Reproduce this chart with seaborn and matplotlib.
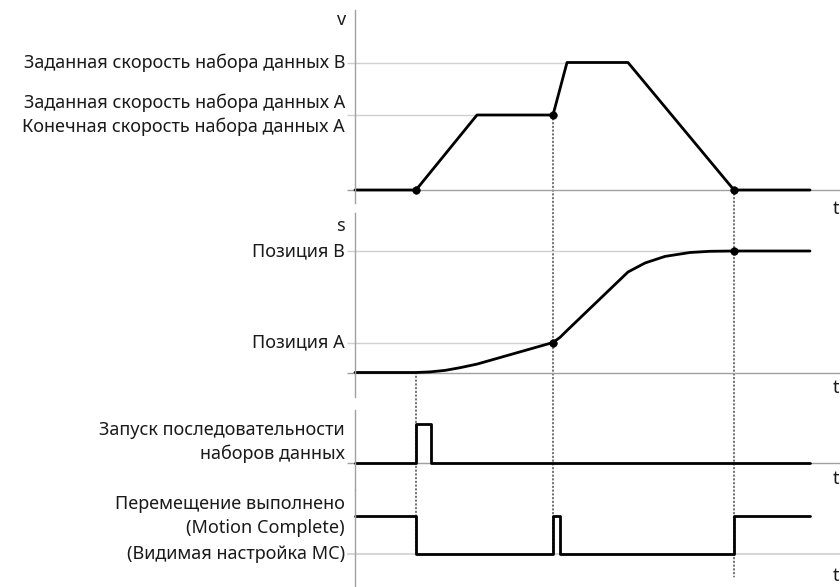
import matplotlib
matplotlib.use("Agg")
import matplotlib.pyplot as plt
from matplotlib.patches import ConnectionPatch
import seaborn as sns

# time axis: arbitrary units, 0 = origin of the time axis
t_start = 6.1     # record sequence started
t_switch = 19.8   # position A reached -> continue with record B
t_done = 37.9     # position B reached
t_end = 45.5      # end of drawn signals

# velocity profile (v)
vel_t = [0, 6.1, 12.2, 19.8, 21.2, 27.3, 37.9, 45.5]
vel_v = [0, 0, 1.0, 1.0, 1.7, 1.7, 0, 0]
v_a, v_b = 1.0, 1.7

# position profile (s)
pos_t = [0, 6.1, 7.5, 9.0, 10.5, 12.2, 19.8, 20.5, 21.2, 27.3, 29.0, 31.0, 33.5, 35.5, 37.9, 45.5]
pos_s = [0, 0, 0.02, 0.07, 0.16, 0.28, 1.0, 1.17, 1.40, 3.35, 3.65, 3.87, 4.0, 4.04, 4.05, 4.05]
s_a, s_b = 1.0, 4.05

# digital signals (steps-post)
start_t = [0, 6.1, 7.6, 45.5]
start_lvl = [0, 1, 0, 0]
mc_t = [0, 6.1, 19.8, 20.5, 37.9, 45.5]
mc_lvl = [1, 0, 1, 0, 1, 1]

lbl_v_b = "Заданная скорость набора данных B"
lbl_v_a = "Заданная скорость набора данных A\nКонечная скорость набора данных A"
lbl_s_b = "Позиция B"
lbl_s_a = "Позиция A"
lbl_start = "Запуск последовательности\nнаборов данных"
lbl_mc_hi = "Перемещение выполнено\n(Motion Complete)"
lbl_mc_lo = "(Видимая настройка MC)"

sns.set_theme(style="white")
plt.rcParams["font.family"] = ["Noto Sans", "DejaVu Sans"]

W, H = 840, 587
LEFT = 347
FS = 13
AXIS_GREY = "#a0a0a0"
GUIDE_GREY = "#d0d0d0"
TEXT = "#1a1a1a"
LW = 2.0

fig = plt.figure(figsize=(W / 100, H / 100), dpi=100)


def add_panel(top, bottom, ylim):
    ax = fig.add_axes([LEFT / W, 1 - bottom / H, (W - LEFT) / W, (bottom - top) / H])
    ax.set_xlim(-0.8, 48.5)
    ax.set_ylim(*ylim)
    ax.patch.set_alpha(0)
    for side in ("top", "right", "bottom"):
        ax.spines[side].set_visible(False)
    ax.spines["left"].set_position(("data", 0))
    ax.spines["left"].set_color(AXIS_GREY)
    ax.spines["left"].set_linewidth(1)
    ax.set_xticks([])
    ax.set_yticks([])
    ax.set_xlabel("")
    ax.set_ylabel("")
    return ax


def label(ax, y, text, va="center"):
    ax.annotate(text, xy=(0, y), xytext=(-7.2, 0), textcoords="offset points",
                ha="right", va=va, fontsize=FS, linespacing=1.4, color=TEXT)


def axis_letter(ax, text, xf, yf, ha="right"):
    ax.text(xf, yf, text, transform=ax.transAxes, ha=ha, va="center",
            fontsize=FS, color=TEXT)


def curve(ax, x, y, steps=False):
    kw = dict(drawstyle="steps-post") if steps else {}
    sns.lineplot(x=x, y=y, ax=ax, color="black", linewidth=LW, estimator=None,
                 sort=False, legend=False, **kw)


# ---- panel 1: velocity
ax1 = add_panel(10, 203, (-13 / 75, 180 / 75))
ax1.hlines([0], -0.8, 48.5, color=AXIS_GREY, lw=1)
ax1.hlines([v_a], -0.8, 12.2, color=GUIDE_GREY, lw=1)
ax1.hlines([v_b], -0.8, 21.2, color=GUIDE_GREY, lw=1)
curve(ax1, vel_t, vel_v)
sns.scatterplot(x=[t_start, t_switch, t_done], y=[0, v_a, 0], ax=ax1,
                color="black", s=30, edgecolor=None, zorder=5)
label(ax1, v_b, lbl_v_b)
label(ax1, v_a, lbl_v_a)
axis_letter(ax1, "v", -0.002, 0.95)
axis_letter(ax1, "t", 0.992, -0.03, ha="center")

# ---- panel 2: position
ax2 = add_panel(213, 397, (-24.5 / 30, 159.5 / 30))
ax2.hlines([0], -0.8, 48.5, color=AXIS_GREY, lw=1)
ax2.hlines([s_a], -0.8, t_switch, color=GUIDE_GREY, lw=1)
ax2.hlines([s_b], -0.8, t_done, color=GUIDE_GREY, lw=1)
curve(ax2, pos_t, pos_s)
sns.scatterplot(x=[t_switch, t_done], y=[s_a, s_b], ax=ax2,
                color="black", s=30, edgecolor=None, zorder=5)
label(ax2, s_b, lbl_s_b)
label(ax2, s_a, lbl_s_a)
axis_letter(ax2, "s", -0.002, 0.93)
axis_letter(ax2, "t", 0.992, 0.05, ha="center")

# ---- panel 3: start record sequence
ax3 = add_panel(410, 490, (-27 / 39, 53 / 39))
ax3.hlines([0], -0.8, 48.5, color=AXIS_GREY, lw=1)
curve(ax3, start_t, start_lvl, steps=True)
label(ax3, 0, lbl_start, va="bottom")
axis_letter(ax3, "t", 0.992, 0.14, ha="center")

# ---- panel 4: motion complete
ax4 = add_panel(490, 587, (-33 / 38, 64 / 38))
ax4.hlines([0], -0.8, 48.5, color=GUIDE_GREY, lw=1.2)
curve(ax4, mc_t, mc_lvl, steps=True)
label(ax4, 1, lbl_mc_hi)
label(ax4, 0, lbl_mc_lo)
axis_letter(ax4, "t", 0.992, 0.11, ha="center")

# ---- dotted guides across the panels
for (xa, ya, axa), (xb, yb, axb) in [
    ((t_start, 0, ax2), (t_start, 0, ax4)),
    ((t_switch, v_a, ax1), (t_switch, 0, ax4)),
    ((t_done, 0, ax1), (t_done, -0.6, ax4)),
]:
    fig.add_artist(ConnectionPatch(xyA=(xa, ya), coordsA=axa.transData,
                                   xyB=(xb, yb), coordsB=axb.transData,
                                   color="#222222", lw=0.9, linestyle=(0, (1, 2)),
                                   zorder=0))

fig.savefig("out.png", dpi=100)
